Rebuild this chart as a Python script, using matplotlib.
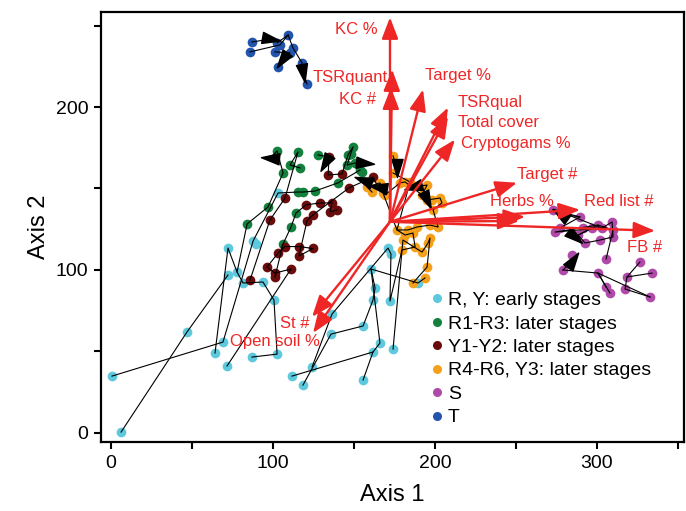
import numpy as np
import matplotlib
matplotlib.use("Agg")
from matplotlib import pyplot as plt
from matplotlib.markers import MarkerStyle
from matplotlib.path import Path
from matplotlib.transforms import Affine2D
from matplotlib.lines import Line2D

plt.rcParams['font.family'] = ['Liberation Sans', 'DejaVu Sans']

# ---- site scores per group (Axis 1, Axis 2) ----
cyan = [(72.2, 113.4), (87.7, 117.7), (89.5, 116.0), (72.2, 96.8), (77.8, 98.6), (81.5, 91.9),
        (93.8, 92.5), (100.6, 81.4), (46.9, 61.8), (69.1, 55.6), (64.2, 48.9), (71.6, 40.9),
        (87.0, 46.4), (102.5, 48.2), (0.6, 34.7), (6.2, 0.3), (136.4, 72.8), (135.8, 60.5),
        (124.1, 40.3), (111.7, 34.7), (118.5, 29.2), (103.1, 147.2), (171.0, 113.4), (172.8, 109.7),
        (160.5, 100.5), (163.0, 88.8), (161.7, 81.4), (172.2, 80.8), (155.6, 65.5), (166.0, 55.0),
        (161.7, 49.5), (174.1, 51.3), (155.6, 32.3), (189.5, 91.9)]
green = [(102.5, 173.0), (115.4, 172.4), (110.5, 164.4), (116.7, 162.6), (106.2, 159.5), (127.8, 170.6),
         (146.3, 170.6), (149.4, 175.5), (145.7, 164.4), (150.6, 165.6), (153.7, 161.3), (140.1, 153.4),
         (125.9, 148.4), (115.4, 147.8), (118.5, 147.8), (96.9, 138.6), (114.2, 134.9), (84.0, 128.2),
         (111.1, 126.3), (106.2, 115.9), (154.9, 160.0), (148.0, 171.0)]
maroon = [(134.6, 169.3), (134.0, 158.3), (142.6, 158.9), (161.7, 157.0), (146.9, 150.3), (136.4, 141.1),
          (135.2, 135.6), (139.5, 136.8), (129.0, 141.1), (120.4, 139.9), (124.7, 133.8), (121.0, 130.1),
          (107.4, 144.1), (98.1, 130.6), (107.4, 114.3), (116.0, 114.3), (124.7, 113.1), (116.0, 108.5),
          (103.1, 110.3), (96.3, 101.7), (101.2, 98.0), (111.1, 100.5), (85.8, 93.7), (101.2, 95.6)]
orange = [(158.0, 150.9), (161.1, 147.8), (166.0, 153.4), (169.1, 146.0), (174.1, 159.5), (178.4, 153.4),
          (181.5, 154.0), (184.6, 154.0), (192.0, 146.0), (195.1, 152.1), (198.1, 142.9), (203.1, 144.1),
          (204.3, 141.1), (195.1, 142.9), (198.8, 136.8), (201.9, 126.3), (196.9, 127.5), (188.9, 126.3),
          (183.3, 124.5), (176.5, 124.5), (186.4, 122.6), (196.9, 119.5), (181.5, 121.4), (180.2, 118.3),
          (179.6, 112.2), (187.7, 114.0), (195.7, 116.5), (192.0, 110.9), (195.1, 101.7), (193.8, 95.0),
          (186.4, 91.9), (167.9, 147.2), (174.1, 170.0)]
purple = [(272.8, 136.8), (277.2, 125.7), (291.4, 125.7), (292.6, 116.5), (300.6, 127.5), (303.1, 125.7),
          (309.3, 129.4), (309.9, 124.5), (309.9, 120.2), (301.9, 118.3), (289.5, 132.5), (288.3, 121.4),
          (296.9, 125.7), (305.6, 106.6), (284.6, 109.1), (279.0, 99.9), (300.6, 98.0), (305.6, 89.4),
          (326.5, 104.8), (318.5, 95.6), (334.0, 98.0), (317.3, 88.2), (332.7, 83.3), (308.0, 85.7),
          (279.0, 134.9), (274.1, 123.2)]
blue = [(87.0, 240.0), (85.8, 233.9), (102.5, 239.4), (104.3, 238.2), (109.3, 244.3), (101.2, 233.9),
        (112.3, 236.4), (110.5, 233.3), (103.1, 224.6), (117.9, 227.1), (121.0, 214.2)]

groups = [cyan, green, maroon, orange, purple, blue]
group_labels = ["R, Y: early stages", "R1-R3: later stages", "Y1-Y2: later stages",
                "R4-R6, Y3: later stages", "S", "T"]
group_colors = ["#5ec8dc", "#13803d", "#6b0c0c", "#f5a01a", "#b04aa8", "#2354ad"]

# ---- successional trajectories (black lines) ----
trajectories = [
    [(6.2, 0.3), (46.9, 61.8), (72.2, 96.8)],
    [(77.8, 98.6), (81.5, 91.9), (93.8, 92.5), (100.6, 81.4), (102.5, 48.2), (87.0, 46.4)],
    [(0.6, 34.7), (69.1, 55.6), (87.7, 117.7), (103.1, 147.2), (115.4, 147.8), (118.5, 147.8),
     (125.9, 148.4), (140.1, 153.4), (153.7, 161.3)],
    [(64.2, 48.9), (72.2, 113.4), (77.8, 98.6), (84.0, 128.2), (96.9, 138.6), (106.2, 159.5),
     (102.5, 173.0), (98.1, 168.7)],
    [(71.6, 40.9), (111.1, 100.5), (101.2, 98.0), (96.3, 101.7), (103.1, 110.3), (107.4, 114.3),
     (116.0, 114.3), (124.7, 113.1), (116.0, 108.5), (121.0, 130.1), (124.7, 133.8), (146.9, 150.3),
     (161.7, 157.0), (164.8, 150.9)],
    [(85.8, 93.7), (98.1, 130.6), (107.4, 144.1), (115.4, 172.4), (110.5, 164.4), (116.7, 162.6)],
    [(101.2, 95.6), (106.2, 115.9), (111.1, 126.3), (114.2, 134.9), (120.4, 139.9), (129.0, 141.1),
     (136.4, 141.1), (135.2, 135.6), (139.5, 136.8)],
    [(127.8, 170.6), (134.6, 169.3), (134.0, 158.3), (142.6, 158.9), (146.3, 170.6), (149.4, 175.5),
     (145.7, 164.4), (150.6, 165.6), (156.8, 165.6)],
    [(134.6, 169.3), (132.1, 165.6)],
    [(111.7, 34.7), (161.7, 49.5), (166.0, 55.0), (160.5, 100.5), (189.5, 91.9), (193.8, 95.0)],
    [(118.5, 29.2), (135.8, 60.5), (155.6, 65.5), (161.7, 81.4), (163.0, 88.8), (160.5, 100.5)],
    [(124.1, 40.3), (136.4, 72.8), (171.0, 113.4), (172.8, 109.7), (172.2, 80.8), (179.6, 112.2),
     (187.7, 114.0), (186.4, 122.6), (181.5, 121.4), (176.5, 124.5), (183.3, 124.5), (188.9, 126.3),
     (196.9, 127.5), (201.9, 126.3), (198.8, 136.8), (204.3, 141.1), (203.1, 144.1), (195.1, 142.9)],
    [(155.6, 32.3), (161.7, 49.5)],
    [(174.1, 51.3), (180.2, 118.3), (192.0, 110.9), (195.7, 116.5), (196.9, 119.5), (195.1, 101.7),
     (186.4, 91.9)],
    [(161.1, 147.8), (158.0, 150.9), (166.0, 153.4), (169.1, 146.0), (178.4, 153.4), (181.5, 154.0),
     (192.0, 146.0), (195.1, 152.1), (186.4, 150.9)],
    [(174.1, 170.0), (176.5, 162.6)],
    [(174.1, 159.5), (184.6, 154.0), (176.5, 124.5), (167.9, 147.2), (164.8, 150.9)],
    [(279.0, 99.9), (300.6, 98.0), (305.6, 89.4)],
    [(300.6, 98.0), (332.7, 83.3)],
    [(300.6, 98.0), (308.0, 85.7)],
    [(326.5, 104.8), (318.5, 95.6), (317.3, 88.2), (332.7, 83.3)],
    [(318.5, 95.6), (334.0, 98.0)],
    [(279.0, 99.9), (285.2, 106.0)],
    [(272.8, 136.8), (289.5, 132.5), (277.2, 125.7), (296.9, 125.7), (303.1, 125.7), (309.3, 129.4),
     (309.9, 120.2), (301.9, 118.3), (292.6, 116.5), (288.3, 121.4), (300.6, 127.5), (309.9, 124.5),
     (305.6, 106.6)],
    [(289.5, 132.5), (277.2, 134.2)],
    [(296.9, 125.7), (286.4, 120.2)],
    [(279.0, 134.9), (303.1, 125.7), (274.1, 123.2), (300.6, 127.5)],
    [(87.0, 240.0), (98.8, 241.8)],
    [(85.8, 233.9), (104.3, 238.2), (109.3, 244.3), (112.3, 236.4), (117.9, 227.1), (118.5, 220.9)],
    [(118.5, 220.9), (121.0, 214.2)],
    [(101.2, 233.9), (110.5, 233.3), (105.6, 228.9)],
    [(102.5, 239.4), (109.3, 244.3)],
]

# arrow heads on trajectories: x, y, pointing angle (deg)
head_x = [98.8, 105.6, 118.5, 98.1, 132.1, 156.8, 155.6, 164.8, 176.5, 186.4, 195.1, 277.2, 286.4, 285.2]
head_y = [241.8, 228.9, 220.9, 168.7, 165.6, 165.6, 155.2, 150.9, 162.6, 150.9, 142.9, 134.2, 120.2, 106.0]
head_ang = [-10, -125, -80, 175, -120, -5, 160, 170, -90, 195, -65, 145, -40, 55]

# ---- environmental vectors ----
vec_origin = (172.2, 129.5)
vec_names = ["KC %", "TSRquant", "KC #", "Target %", "TSRqual", "Total cover", "Cryptogams %",
             "Target #", "Herbs %", "", "Red list #", "FB #", "St #", "Open soil %"]
vec_x = [172.2, 173.5, 172.8, 192.6, 208.0, 208.0, 212.3, 250.6, 255.6, 252.0, 289.5, 335.8, 124.1, 124.7]
vec_y = [255.1, 223.1, 212.0, 210.8, 199.7, 194.2, 180.0, 153.5, 132.6, 130.0, 136.9, 124.0, 71.1, 61.2]
lab_x = [164.8, 124.7, 163.6, 193.8, 214.2, 214.2, 216.0, 250.6, 234.0, 0, 292.0, 318.5, 104.3, 73.5]
lab_y = [247.4, 217.9, 204.4, 219.1, 202.5, 190.8, 177.9, 158.3, 141.7, 0, 141.7, 114.0, 67.3, 56.2]
lab_ha = ["right", "left", "right", "left", "left", "left", "left", "left", "left", "left", "left",
          "left", "left", "left"]

red = "#ee2626"

fig = plt.figure(figsize=(6.86, 5.11), dpi=100)
ax = fig.add_axes([0.1472, 0.135, 0.8499, 0.8415])

for pts, col in zip(groups, group_colors):
    ax.plot([p[0] for p in pts], [p[1] for p in pts], 'o', color=col, ms=7, mec='none', zorder=2)

for tr in trajectories:
    ax.plot([p[0] for p in tr], [p[1] for p in tr], '-', color='black', lw=0.8, zorder=3)

head = Path([(1, 0), (-1, 0.62), (-1, -0.62), (1, 0)],
            [Path.MOVETO, Path.LINETO, Path.LINETO, Path.CLOSEPOLY])
for x, y, a in zip(head_x, head_y, head_ang):
    ax.plot([x], [y], marker=MarkerStyle(head, transform=Affine2D().rotate_deg(a)),
            color='black', ms=13, ls='none', zorder=4)

for name, tx, ty, lx, ly, ha in zip(vec_names, vec_x, vec_y, lab_x, lab_y, lab_ha):
    ax.annotate('', xy=(tx, ty), xytext=vec_origin,
                arrowprops=dict(arrowstyle='-|>,head_length=0.65,head_width=0.25', color=red,
                                lw=1.7, shrinkA=0, shrinkB=0, mutation_scale=20), zorder=5)
    if name:
        ax.text(lx, ly, name, color=red, fontsize=12, ha=ha, va='center', zorder=6)

handles = [Line2D([], [], marker='o', ls='none', color=c, ms=6.5, mec='none') for c in group_colors]
ax.legend(handles, group_labels, loc='upper left', bbox_to_anchor=(0.562, 0.35), frameon=False,
          fontsize=14, handletextpad=0.1, handlelength=0.9, labelspacing=0.3, borderpad=0,
          borderaxespad=0)

ax.set_xlim(-6.2, 353.7)
ax.set_ylim(-5.8, 258.4)
ax.set_xticks([0, 100, 200, 300])
ax.set_xticks([50, 150, 250, 350], minor=True)
ax.set_yticks([0, 100, 200])
ax.set_yticks([50, 150, 250], minor=True)
ax.tick_params(which='both', direction='out', length=5, width=1.5, labelsize=14, pad=4)
for s in ax.spines.values():
    s.set_linewidth(1.6)
ax.set_xlabel("Axis 1", fontsize=17, labelpad=9)
ax.set_ylabel("Axis 2", fontsize=17, labelpad=4)

fig.savefig("out.png", dpi=100)
